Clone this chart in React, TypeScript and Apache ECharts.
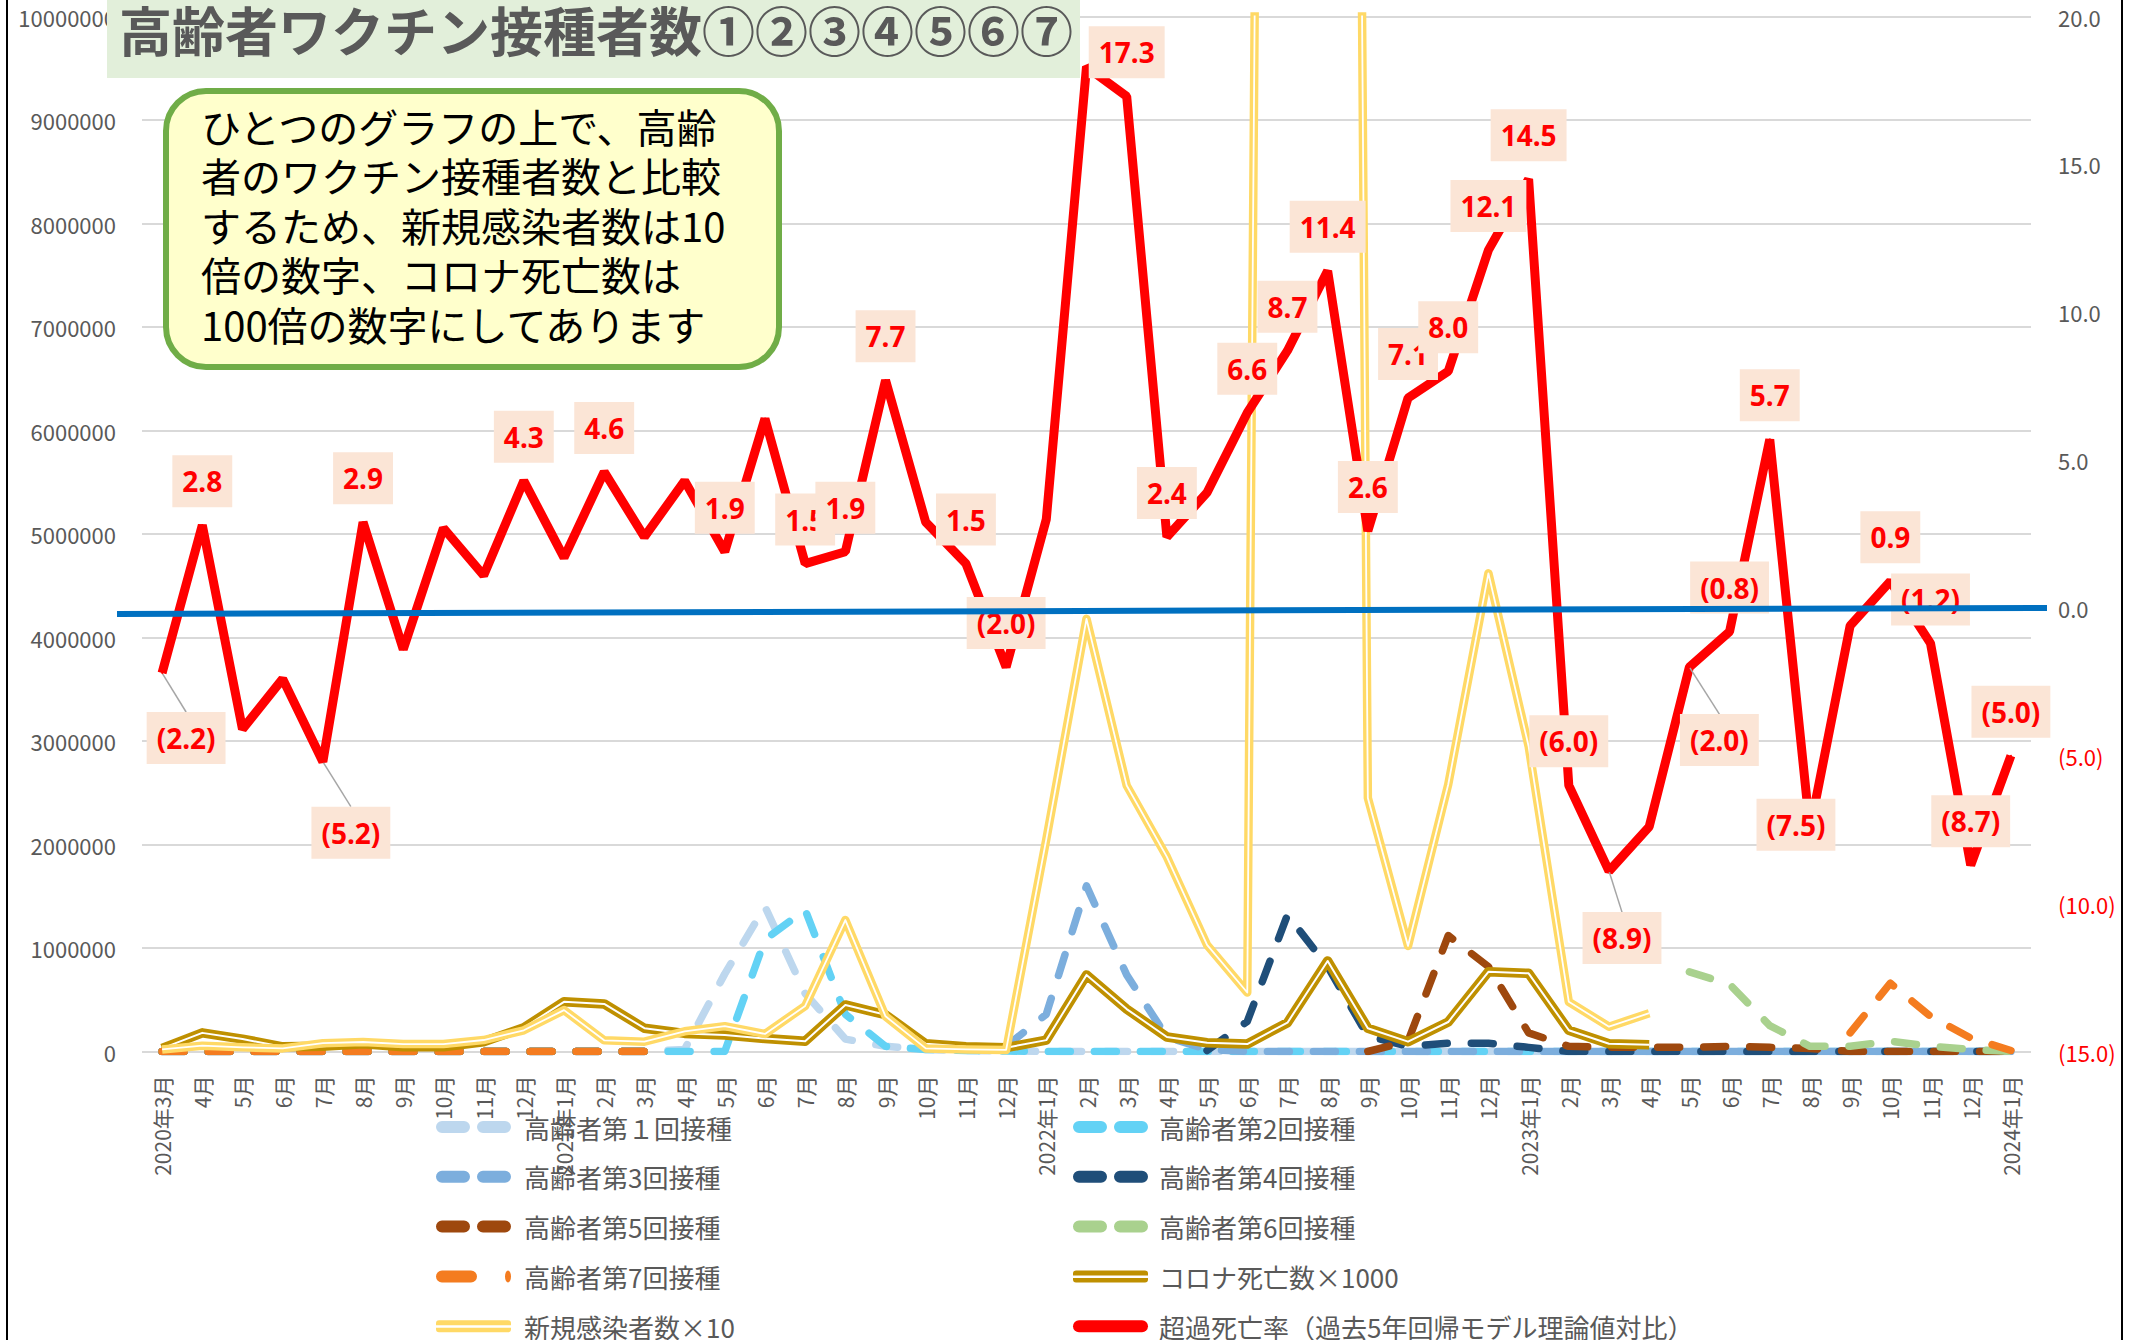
import React, { useEffect, useRef } from 'react';
import * as echarts from 'echarts';

const FONT = '"Noto Sans CJK JP", "Noto Sans", sans-serif';

const CATEGORIES = [
  '2020年3月', '4月', '5月', '6月', '7月', '8月', '9月', '10月', '11月', '12月',
  '2021年1月', '2月', '3月', '4月', '5月', '6月', '7月', '8月', '9月', '10月', '11月', '12月',
  '2022年1月', '2月', '3月', '4月', '5月', '6月', '7月', '8月', '9月', '10月', '11月', '12月',
  '2023年1月', '2月', '3月', '4月', '5月', '6月', '7月', '8月', '9月', '10月', '11月', '12月',
  '2024年1月',
];

const DOSE1 = [0, 0, 0, 0, 0, 0, 0, 0, 0, 0, 0, 0, 0,
  20000, 750000, 1400000, 560000, 120000, 50000, 20000, 10000, 5000,
  0, 0, 0, 0, 0, 0, 0, 0, 0, 0, 0, 0, 0, 0, 0, 0, 0, 0, 0, 0, 0, 0, 0, 0, 0];
const DOSE2 = [0, 0, 0, 0, 0, 0, 0, 0, 0, 0, 0, 0, 0,
  0, 0, 1080000, 1370000, 360000, 50000, 20000, 10000, 5000,
  0, 0, 0, 0, 0, 0, 0, 0, 0, 0, 0, 0, 0, 0, 0, 0, 0, 0, 0, 0, 0, 0, 0, 0, 0];
const DOSE3 = [0, 0, 0, 0, 0, 0, 0, 0, 0, 0, 0, 0, 0,
  null, null, null, null, null, null, null, null,
  50000, 360000, 1600000, 740000, 140000, 20000,
  0, 0, 0, 0, 0, 0, 0, 0, 0, 0, 0, 0, 0, 0, 0, 0, 0, 0, 0, 0];
const DOSE4 = [0, 0, 0, 0, 0, 0, 0, 0, 0, 0, 0, 0, 0,
  null, null, null, null, null, null, null, null, null, null, null, null, null,
  10000, 290000, 1320000, 820000, 150000, 50000, 80000, 80000, 40000,
  0, 0, 0, 0, 0, 0, 0, 0, 0, 0, 0, 0];
const DOSE5 = [0, 0, 0, 0, 0, 0, 0, 0, 0, 0, 0, 0, 0,
  null, null, null, null, null, null, null, null, null, null, null, null, null, null, null, null, null,
  0, 100000, 1120000, 820000, 180000, 50000, 40000, 40000, 40000, 50000, 40000, 30000,
  0, 0, 0, 0, 0];
const DOSE6 = [0, 0, 0, 0, 0, 0, 0, 0, 0, 0, 0, 0, 0,
  null, null, null, null, null, null, null, null, null, null, null, null, null,
  null, null, null, null, null, null, null, null, null, null, null, null,
  770000, 650000, 250000, 50000, 50000, 100000, 50000, 20000, 0];
const DOSE7 = [0, 0, 0, 0, 0, 0, 0, 0, 0, 0, 0, 0, 0,
  null, null, null, null, null, null, null, null, null, null, null, null, null,
  null, null, null, null, null, null, null, null, null, null, null, null,
  null, null, null, null,
  180000, 660000, 340000, 130000, 10000];

const DEATHS_X1000 = [30000, 180000, 120000, 45000, 50000, 74000, 45000, 46000, 95000, 230000,
  480000, 460000, 225000, 175000, 160000, 125000, 100000, 450000, 355000, 75000, 46000, 37000,
  110000, 740000, 410000, 140000, 85000, 72000, 278000, 875000, 225000, 95000, 285000, 770000,
  755000, 205000, 75000, 65000,
  null, null, null, null, null, null, null, null, null];

const CASES_X10 = [20000, 56000, 40000, 30000, 80000, 92000, 72000, 72000, 111000, 205000,
  400000, 108000, 95000, 195000, 245000, 170000, 440000, 1270000, 340000, 30000, 20000, 15000,
  2050000, 4180000, 2570000, 1880000, 1030000, 570000, 52000000, 55000000, 2450000, 1020000, 2580000, 4620000,
  2950000, 480000, 240000, 370000,
  null, null, null, null, null, null, null, null, null];

const EXCESS = [-2.2, 2.8, -4.1, -2.4, -5.2, 2.9, -1.4, 2.7, 1.1, 4.3,
  1.7, 4.6, 2.4, 4.3, 1.9, 6.4, 1.5, 1.9, 7.7, 2.9, 1.5, -2.0,
  3.0, 18.3, 17.3, 2.4, 3.9, 6.6, 8.7, 11.4, 2.6, 7.1, 8.0, 12.1,
  14.5, -6.0, -8.9, -7.4, -2.0, -0.8, 5.7, -7.5, -0.6, 0.9, -1.2, -8.7,
  -5.0];

const LABELED = [0, 1, 4, 5, 9, 11, 14, 16, 17, 18, 20, 21, 24, 25, 27, 28, 29, 30, 31, 32, 33, 34,
  35, 36, 38, 39, 40, 41, 43, 44, 45, 46];
const LEADERS = [0, 4, 36, 38];
const LABEL_SHIFT: Record<number, [number, number]> = {
  0: [24, 109], 4: [28, 115], 36: [13, 111], 38: [30, 117], 41: [-14, 39],
};

const TITLE = '高齢者ワクチン接種者数①②③④⑤⑥⑦';
const NOTE = 'ひとつのグラフの上で、高齢\n者のワクチン接種者数と比較\nするため、新規感染者数は10\n倍の数字、コロナ死亡数は\n100倍の数字にしてあります';

const N1 = '高齢者第１回接種';
const N2 = '高齢者第2回接種';
const N3 = '高齢者第3回接種';
const N4 = '高齢者第4回接種';
const N5 = '高齢者第5回接種';
const N6 = '高齢者第6回接種';
const N7 = '高齢者第7回接種';
const ND = 'コロナ死亡数×1000';
const NC = '新規感染者数×10';
const NE = '超過死亡率（過去5年回帰モデル理論値対比）';

const C1 = '#BDD7EE';
const C2 = '#63D2F5';
const C3 = '#7CAEDD';
const C4 = '#1F4E79';
const C5 = '#9E480E';
const C6 = '#A9D18E';
const C7 = '#F47C20';
const CD = '#BF9000';
const CC = '#FFD966';
const CE = '#FF0000';

const DASH_ICON = 'path://M6,0 H28 A6,6 0 0 1 28,12 H6 A6,6 0 0 1 6,0 Z M47,0 H69 A6,6 0 0 1 69,12 H47 A6,6 0 0 1 47,0 Z';
const DASH_DOT_ICON = 'path://M6,0 H35 A6,6 0 0 1 35,12 H6 A6,6 0 0 1 6,0 Z M72,0 A3,6 0 0 1 72,12 A3,6 0 0 1 72,0 Z';
const DOUBLE_ICON = 'path://M3,0 H72 A3,3 0 0 1 75,3 V5 H0 V3 A3,3 0 0 1 3,0 Z M0,7.5 H75 V9 A3,3 0 0 1 72,12 H3 A3,3 0 0 1 0,9 Z';
const SOLID_ICON = 'path://M6,0 H69 A6,6 0 0 1 69,12 H6 A6,6 0 0 1 6,0 Z';

function fmtRate(v: number): string {
  return v < 0 ? `(${Math.abs(v).toFixed(1)})` : v.toFixed(1);
}

function dashed(name: string, data: (number | null)[], color: string) {
  return {
    name,
    type: 'line',
    data,
    yAxisIndex: 0,
    symbol: 'none',
    itemStyle: { color },
    lineStyle: { color, width: 7.5, type: [22, 24], cap: 'round', join: 'round' },
  };
}

function legendItem(name: string, icon: string, color: string) {
  return { name, icon, itemStyle: { color, borderWidth: 0 } };
}

export default function App() {
  const ref = useRef<HTMLDivElement>(null);
  useEffect(() => {
    if (!ref.current) return;
    const chart = echarts.init(ref.current, undefined, { renderer: 'svg', width: 2136, height: 1340 });

    const legendCommon = {
      orient: 'vertical',
      top: 1114,
      height: 260,
      padding: 0,
      itemWidth: 75,
      itemHeight: 12,
      itemGap: 23.8,
      selectedMode: false,
      itemStyle: { borderWidth: 0 },
    };

    const option: any = {
      animation: false,
      backgroundColor: '#ffffff',
      textStyle: { fontFamily: FONT },
      grid: { left: 142, right: 105, top: 16.5, bottom: 288.5, containLabel: false },
      xAxis: {
        type: 'category',
        data: CATEGORIES,
        boundaryGap: true,
        axisLine: { show: false },
        axisTick: { show: false },
        axisLabel: { rotate: 90, interval: 0, color: '#595959', fontSize: 21, margin: 24, fontFamily: FONT },
      },
      yAxis: [
        {
          type: 'value', min: 0, max: 10000000, interval: 1000000,
          axisLine: { show: false }, axisTick: { show: false },
          splitLine: { lineStyle: { color: '#D9D9D9', width: 2 } },
          axisLabel: { color: '#595959', fontSize: 22, margin: 26, fontFamily: FONT, formatter: (v: number) => String(v) },
        },
        {
          type: 'value', min: -15, max: 20, interval: 5, position: 'right',
          axisLine: { show: false }, axisTick: { show: false },
          splitLine: { show: false },
          axisLabel: {
            fontSize: 22, margin: 27, fontFamily: FONT,
            formatter: (v: number) => fmtRate(v),
            color: (v: any) => (parseFloat(v) < 0 ? '#FF0000' : '#595959'),
          },
        },
      ],
      legend: [
        {
          ...legendCommon,
          left: 436,
          textStyle: { color: '#595959', fontSize: 26, lineHeight: 24, fontFamily: FONT, padding: [0, 0, 0, 8] },
          data: [
            legendItem(N1, DASH_ICON, C1),
            legendItem(N3, DASH_ICON, C3),
            legendItem(N5, DASH_ICON, C5),
            legendItem(N7, DASH_DOT_ICON, C7),
            legendItem(NC, DOUBLE_ICON, CC),
          ],
        },
        {
          ...legendCommon,
          left: 1073,
          textStyle: { color: '#595959', fontSize: 26, lineHeight: 24, fontFamily: FONT, padding: [0, 0, 0, 6] },
          data: [
            legendItem(N2, DASH_ICON, C2),
            legendItem(N4, DASH_ICON, C4),
            legendItem(N6, DASH_ICON, C6),
            legendItem(ND, DOUBLE_ICON, CD),
            legendItem(NE, SOLID_ICON, CE),
          ],
        },
      ],
      series: [
        dashed(N1, DOSE1, C1),
        dashed(N2, DOSE2, C2),
        dashed(N3, DOSE3, C3),
        dashed(N4, DOSE4, C4),
        dashed(N5, DOSE5, C5),
        dashed(N6, DOSE6, C6),
        dashed(N7, DOSE7, C7),
        {
          name: ND, type: 'line', data: DEATHS_X1000, yAxisIndex: 0, symbol: 'none',
          itemStyle: { color: CD }, lineStyle: { color: CD, width: 9.5, join: 'round' },
        },
        {
          name: '_deaths_inner', type: 'line', data: DEATHS_X1000, yAxisIndex: 0, symbol: 'none', silent: true,
          itemStyle: { color: '#ffffff' }, lineStyle: { color: '#ffffff', width: 2, join: 'round' },
        },
        {
          name: NC, type: 'line', data: CASES_X10, yAxisIndex: 0, symbol: 'none',
          itemStyle: { color: CC }, lineStyle: { color: CC, width: 8.5, join: 'round' },
        },
        {
          name: '_cases_inner', type: 'line', data: CASES_X10, yAxisIndex: 0, symbol: 'none', silent: true,
          itemStyle: { color: '#ffffff' }, lineStyle: { color: '#ffffff', width: 1.8, join: 'round' },
        },
        {
          name: NE, type: 'line', yAxisIndex: 1, z: 5,
          symbol: 'circle', symbolSize: 2, showSymbol: true, showAllSymbol: true,
          itemStyle: { color: CE },
          lineStyle: { color: CE, width: 9 },
          data: EXCESS.map((v, i) => ({
            value: v,
            label: { show: LABELED.includes(i) },
            labelLine: { show: LEADERS.includes(i) },
          })),
          label: {
            show: false,
            position: 'top',
            distance: 17,
            color: '#FF0000',
            fontWeight: 'bold',
            fontSize: 28,
            lineHeight: 34,
            fontFamily: '"Noto Sans", sans-serif',
            backgroundColor: '#FBE5D6',
            padding: [9, 10],
            formatter: (p: any) => fmtRate(p.value),
          },
          labelLine: { show: false, lineStyle: { color: '#A6A6A6', width: 1.5 } },
          labelLayout: (p: any) => {
            const s = LABEL_SHIFT[p.dataIndex];
            return s ? { dx: s[0], dy: s[1] } : {};
          },
        },
      ],
    };

    chart.setOption(option);
    const y0 = chart.convertToPixel({ yAxisIndex: 1 }, 0) as number;

    chart.setOption({
      graphic: [
        {
          type: 'rect', z: 90,
          shape: { x: 166, y: 91, width: 613, height: 276, r: 40 },
          style: { fill: '#FFFFCC', stroke: '#70AD47', lineWidth: 6 },
        },
        {
          type: 'text', z: 91, x: 201, y: 101,
          style: { text: NOTE, font: `40px ${FONT}`, fill: '#000000', lineHeight: 49.5, align: 'left', verticalAlign: 'top' },
        },
        {
          type: 'line', z: 100,
          shape: { x1: 117, y1: y0 + 6, x2: 2047, y2: y0 },
          style: { stroke: '#0070C0', lineWidth: 6 },
        },
        {
          type: 'rect', z: 110,
          shape: { x: 107, y: 0, width: 973, height: 78 },
          style: { fill: '#E2EFDA' },
        },
        {
          type: 'text', z: 111, x: 119, y: 29,
          style: { text: TITLE, font: `bold 53px ${FONT}`, fill: '#595959', align: 'left', verticalAlign: 'middle' },
        },
        {
          type: 'line', z: 120,
          shape: { x1: 7, y1: 0, x2: 7, y2: 1340 },
          style: { stroke: '#000000', lineWidth: 2 },
        },
        {
          type: 'line', z: 120,
          shape: { x1: 2122, y1: 0, x2: 2122, y2: 1340 },
          style: { stroke: '#000000', lineWidth: 2 },
        },
      ],
    });

    return () => chart.dispose();
  }, []);

  return (
    <div
      ref={ref}
      style={{ position: 'fixed', left: 0, top: 0, width: 2136, height: 1340, background: '#ffffff' }}
    />
  );
}
